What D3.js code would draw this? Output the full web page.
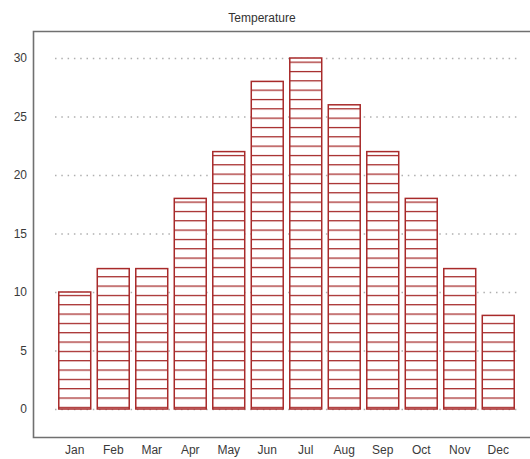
<!DOCTYPE html>
<html><head><meta charset="utf-8">
<script src="https://cdn.jsdelivr.net/npm/d3@7"></script>
<style>body{margin:0;background:#fff;} text{font-family:"Liberation Sans",Arial,sans-serif;}</style>
</head><body>
<svg id="chart" width="530" height="459"></svg>
<script>
const months = ["Jan","Feb","Mar","Apr","May","Jun","Jul","Aug","Sep","Oct","Nov","Dec"];
const temperatures = [10,12,12,18,22,28,30,26,22,18,12,8];
const yTicks = [0,5,10,15,20,25,30];
const title = "Temperature";

const svg = d3.select("#chart");
const x = d3.scaleBand().domain(months).range([55.5,517.5]).paddingInner(0.17).paddingOuter(0.085);
const y = d3.scaleLinear().domain([0,30]).range([409,58]);

const defs = svg.append("defs");
const pat = defs.append("pattern").attr("id","hatch").attr("patternUnits","userSpaceOnUse")
  .attr("x",0).attr("y",406.8).attr("width",20).attr("height",9.33);
pat.append("rect").attr("width",20).attr("height",9.33).attr("fill","#fff");
pat.append("line").attr("x1",0).attr("x2",20).attr("y1",0.6).attr("y2",0.6)
  .attr("stroke","#a01c1c").attr("stroke-width",1.2);

// grid
svg.append("g").selectAll("line").data(yTicks).join("line")
  .attr("x1",55).attr("x2",517).attr("y1",d=>y(d)+0.5).attr("y2",d=>y(d)+0.5)
  .attr("stroke","#b0b0b0").attr("stroke-width",1.5).attr("stroke-dasharray","1.5,4.8");

// bars
svg.append("g").selectAll("rect").data(temperatures).join("rect")
  .attr("x",(d,i)=>x(months[i])).attr("width",x.bandwidth())
  .attr("y",d=>y(d)).attr("height",d=>y(0)-y(d))
  .attr("fill","url(#hatch)").attr("stroke","#a82a2a").attr("stroke-width",1.5);

// frame
svg.append("path").attr("d","M530,31.5H33.5V437.5H530").attr("fill","none")
  .attr("stroke","#707070").attr("stroke-width",1.6);

// y axis labels
const yAxis = d3.axisLeft(y).tickValues(yTicks).tickSize(0).tickPadding(0);
const gy = svg.append("g").attr("transform","translate(27,0)").call(yAxis);
gy.select(".domain").remove();
gy.selectAll("text").attr("font-size",12).attr("fill","#3a3a3a").style("font-family","'Liberation Sans',Arial,sans-serif");

// x axis labels
const xAxis = d3.axisBottom(x).tickSize(0).tickPadding(0);
const gx = svg.append("g").attr("transform","translate(0,445)").call(xAxis);
gx.select(".domain").remove();
gx.selectAll("text").attr("font-size",12).attr("fill","#3a3a3a").style("font-family","'Liberation Sans',Arial,sans-serif");

svg.append("text").attr("x",262).attr("y",22).attr("text-anchor","middle")
  .attr("font-size",12).attr("fill","#333").text(title);
</script>
</body></html>
